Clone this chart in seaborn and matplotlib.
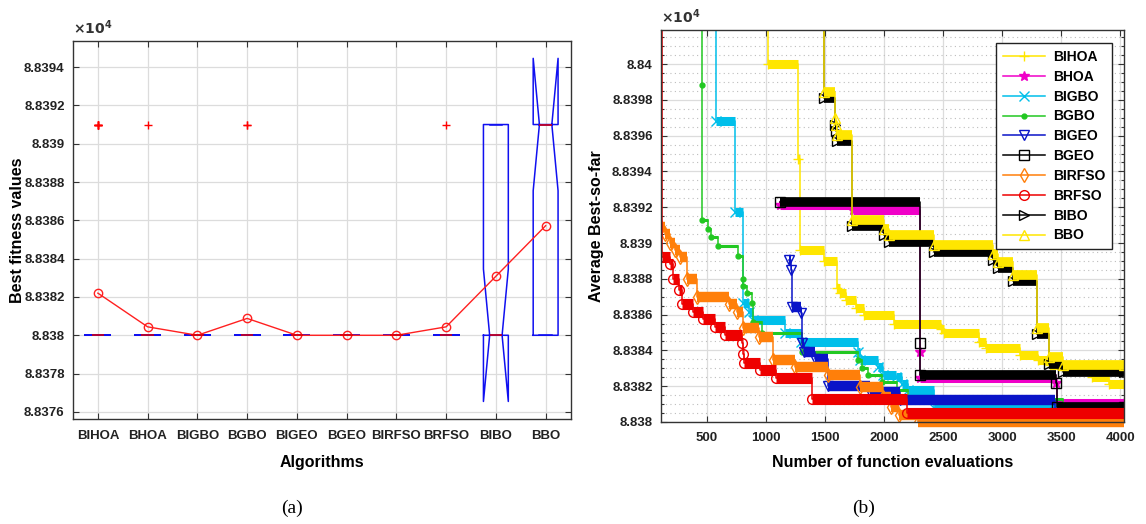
import numpy as np
import pandas as pd
import matplotlib
matplotlib.use("Agg")
import matplotlib.pyplot as plt
from matplotlib.ticker import MultipleLocator, FixedLocator
import seaborn as sns

# ---------------- panel (a) data ----------------
algorithms = ["BIHOA", "BHOA", "BIGBO", "BGBO", "BIGEO", "BGEO", "BIRFSO", "BRFSO", "BIBO", "BBO"]
best_value = 88380.0
worse_value = 88391.0
runs_at_best = [20, 24, 25, 23, 25, 25, 25, 24, 18, 12]
runs_at_worse = [5, 1, 0, 2, 0, 0, 0, 1, 7, 13]

# ---------------- panel (b) data (step curves, value from x onwards) ----------------
bihoa_x = [1014, 1016, 1275, 1289, 1490, 1600, 1630, 1680, 1760, 1830, 2080, 2480, 2510, 2800, 2860, 3150, 3300, 3400, 3760, 3900]
bihoa_y = [88420, 88400.0, 88394.7, 88389.6, 88389.0, 88387.47, 88387.2, 88386.82, 88386.35, 88385.98, 88385.5, 88385.2,
           88384.95, 88384.49, 88384.12, 88383.75, 88383.46, 88383.18, 88382.5, 88382.1]
bhoa_x = [1120, 1740, 2300, 2305, 3455, 3461]
bhoa_y = [88392.15, 88391.85, 88383.93, 88382.45, 88382.16, 88381.05]
bigbo_x = [578, 580, 735, 810, 860, 890, 1160, 1300, 1780, 1800, 1950, 1990, 2100, 2150, 2200, 2425]
bigbo_y = [88420, 88396.83, 88391.72, 88386.63, 88386.16, 88385.7, 88384.95, 88384.49, 88383.9, 88383.46, 88383.1,
           88382.63, 88382.53, 88382.1, 88381.79, 88380.76]
bgbo_x = [455, 457, 460, 514, 540, 596, 765, 807, 810, 838, 880, 892, 965, 1304, 1783, 1810, 1865, 1980, 2107, 2200, 3510]
bgbo_y = [88420, 88398.8, 88391.3, 88390.77, 88390.35, 88389.83, 88389.3, 88388.0, 88387.6, 88387.19, 88386.63, 88385.6,
          88384.95, 88383.93, 88383.46, 88383.0, 88382.6, 88382.25, 88381.8, 88381.3, 88380.5]
bigeo_x = [1195, 1215, 1225, 1300, 1305, 1320, 1416, 1530, 1880, 2135, 3447]
bigeo_y = [88389.05, 88388.5, 88386.45, 88386.07, 88384.43, 88383.93, 88383.5, 88382.0, 88381.7, 88381.23, 88380.5]
bgeo_x = [1120, 2300, 2305, 3455, 3461]
bgeo_y = [88392.31, 88384.4, 88382.63, 88382.16, 88380.86]
birfso_x = [113, 150, 190, 230, 270, 330, 420, 690, 760, 810, 940, 1060, 1250, 1530, 1800, 1990, 2060, 2130, 2290]
birfso_y = [88390.9, 88390.5, 88390.0, 88389.6, 88389.2, 88388.0, 88387.0, 88386.6, 88386.16, 88385.24, 88384.77,
            88383.46, 88383.05, 88382.6, 88381.97, 88381.4, 88380.85, 88380.4, 88380.0]
brfso_x = [113, 118, 190, 215, 265, 290, 380, 465, 570, 655, 795, 805, 815, 950, 1090, 1390, 2190]
brfso_y = [88420, 88389.2, 88388.8, 88388.0, 88387.4, 88386.6, 88386.16, 88385.74, 88385.33, 88384.86, 88384.4,
           88383.8, 88383.3, 88382.9, 88382.44, 88381.27, 88380.5]
bibo_x = [1493, 1495, 1585, 1595, 1605, 1727, 2000, 2040, 2420, 2920, 2960, 3090, 3292, 3396, 3510]
bibo_y = [88420, 88398.1, 88396.6, 88396.25, 88395.7, 88390.95, 88390.45, 88390.05, 88389.5, 88389.05, 88388.6,
          88387.85, 88384.9, 88383.25, 88382.8]
bbo_x = [1493, 1495, 1585, 1595, 1605, 1727, 2000, 2040, 2420, 2920, 2960, 3090, 3292, 3396, 3510]
bbo_y = [88420, 88398.45, 88396.97, 88396.6, 88396.03, 88391.3, 88390.8, 88390.45, 88389.89, 88389.4, 88388.96,
         88388.21, 88385.24, 88383.65, 88383.18]
evals_end = 4030

series_names = ["BIHOA", "BHOA", "BIGBO", "BGBO", "BIGEO", "BGEO", "BIRFSO", "BRFSO", "BIBO", "BBO"]
series_x = [bihoa_x, bhoa_x, bigbo_x, bgbo_x, bigeo_x, bgeo_x, birfso_x, brfso_x, bibo_x, bbo_x]
series_y = [bihoa_y, bhoa_y, bigbo_y, bgbo_y, bigeo_y, bgeo_y, birfso_y, brfso_y, bibo_y, bbo_y]

# ---------------- styles ----------------
series_colors = ["#FFE600", "#F000C8", "#00BFEA", "#22C822", "#0A14C8", "#000000", "#FF7F0A", "#EE0000", "#000000", "#FFE600"]
series_markers = ["+", "*", "x", ".", "v", "s", "d", "o", ">", "^"]
band_widths = [6.5, 6.5, 6.5, 2.2, 7.5, 7, 7.5, 8, 7, 7]

plt.rcParams["font.family"] = ["Liberation Sans", "DejaVu Sans"]
plt.rcParams["font.weight"] = "bold"
plt.rcParams["axes.labelweight"] = "bold"
plt.rcParams["axes.edgecolor"] = "#333333"
plt.rcParams["axes.linewidth"] = 1.0

fig = plt.figure(figsize=(11.46, 5.24), dpi=100)
fig.patch.set_facecolor("white")

# ======================= panel (a) =======================
ax1 = fig.add_axes([73 / 1146, 1 - 419 / 524, 497.5 / 1146, 378 / 524])
fit_rows = []
for name, nb, nw in zip(algorithms, runs_at_best, runs_at_worse):
    fit_rows += [(name, best_value)] * nb + [(name, worse_value)] * nw
df_fit = pd.DataFrame(fit_rows, columns=["Algorithm", "Fitness"])

sns.boxplot(data=df_fit, x="Algorithm", y="Fitness", order=algorithms, notch=True, fill=False,
            color="#1010F0", width=0.5, linewidth=1.1,
            medianprops=dict(color="#E00000", linewidth=1.1),
            whiskerprops=dict(linestyle="--", color="#1010F0"),
            capprops=dict(color="#1010F0"),
            flierprops=dict(marker="+", markeredgecolor="red", markersize=5.5, markeredgewidth=1.0),
            ax=ax1)
sns.pointplot(data=df_fit, x="Algorithm", y="Fitness", order=algorithms, estimator="mean", errorbar=None,
              color="#FF2020", markers="o", markersize=6, markerfacecolor="none", markeredgewidth=1.0,
              linewidth=1.0, ax=ax1)

ax1.set_xlim(-0.5, 9.5)
ax1.set_ylim(88375.63, 88395.36)
yt1 = np.arange(88376, 88395, 2)
ax1.yaxis.set_major_locator(FixedLocator(yt1))
ax1.set_yticklabels([f"{v / 1e4:.4f}".rstrip("0").rstrip(".") for v in yt1])
ax1.set_xticks(range(len(algorithms)))
ax1.set_xticklabels(algorithms)
ax1.grid(True, color="#DCDCDC", linewidth=0.9)
ax1.set_axisbelow(True)
ax1.tick_params(direction="in", top=True, right=True, length=4, width=0.8, labelsize=9.5, colors="#333333",
                labelcolor="#222222")
ax1.tick_params(axis="x", pad=8)
ax1.tick_params(axis="y", pad=6)
ax1.set_xlabel("Algorithms", fontsize=11.5, labelpad=9)
ax1.set_ylabel("Best fitness values", fontsize=11.5, labelpad=-1)
ax1.text(0.0, 1.01, r"$\times10^{4}$", transform=ax1.transAxes, fontsize=10, ha="left", va="bottom", color="#333333")

# ======================= panel (b) =======================
ax2 = fig.add_axes([661 / 1146, 1 - 422 / 524, 463 / 1146, 392 / 524])
y_lo, y_hi = 88380.0, 88401.9
for name, xs, ys, col, mk, bw in zip(series_names, series_x, series_y, series_colors, series_markers, band_widths):
    xx = list(xs) + [evals_end]
    yy = list(ys) + [ys[-1]]
    # thick bands formed by dense markers on each plateau
    seg_rows = []
    for i in range(len(xx) - 1):
        if ys[i] <= y_hi:
            seg_rows.append((i, xx[i], yy[i]))
            seg_rows.append((i, xx[i + 1], yy[i]))
    seg = pd.DataFrame(seg_rows, columns=["seg", "x", "y"])
    sns.lineplot(data=seg, x="x", y="y", units="seg", estimator=None, sort=False, color=col,
                 linewidth=bw, solid_capstyle="butt", clip_on=False, legend=False, ax=ax2)
    sns.lineplot(x=xx, y=yy, estimator=None, sort=False, drawstyle="steps-post", color=col, linewidth=1.1,
                 marker=mk, markersize=7, markerfacecolor=("none" if mk not in ("*", ".") else col),
                 markeredgecolor=col, markeredgewidth=1.0, label=name, ax=ax2)

ax2.set_xlim(113, evals_end)
ax2.set_ylim(y_lo, y_hi)
ax2.set_xticks(np.arange(500, 4001, 500))
yt2 = np.arange(88380, 88401, 2)
ax2.yaxis.set_major_locator(FixedLocator(yt2))
ax2.set_yticklabels([f"{v / 1e4:.4f}".rstrip("0").rstrip(".") for v in yt2])
ax2.yaxis.set_minor_locator(MultipleLocator(0.5))
ax2.grid(True, which="major", color="#DCDCDC", linewidth=0.9)
ax2.grid(True, which="minor", axis="y", color="#BDBDBD", linewidth=0.8, linestyle=(0, (1, 3)))
ax2.set_axisbelow(True)
ax2.tick_params(which="both", direction="in", top=True, right=True, width=0.8, colors="#333333",
                labelcolor="#222222")
ax2.tick_params(which="major", length=4, labelsize=9.5)
ax2.tick_params(axis="x", which="major", pad=7)
ax2.tick_params(axis="y", which="major", pad=6)
ax2.tick_params(which="minor", length=2)
ax2.set_xlabel("Number of function evaluations", fontsize=11.5, labelpad=8)
ax2.set_ylabel("Average Best-so-far", fontsize=11.5, labelpad=6)
ax2.text(0.0, 1.01, r"$\times10^{4}$", transform=ax2.transAxes, fontsize=10, ha="left", va="bottom", color="#333333")

leg = ax2.legend(loc="upper right", bbox_to_anchor=(0.975, 0.967), borderaxespad=0.0, fontsize=10, frameon=True,
                 fancybox=False, edgecolor="#222222", framealpha=1.0, handlelength=3.0, labelspacing=0.42,
                 borderpad=0.5, handletextpad=0.6)
leg.get_frame().set_linewidth(1.0)
for t in leg.get_texts():
    t.set_fontweight("bold")

fig.text(292 / 1146, 1 - 508 / 524, "(a)", fontsize=14, ha="center", va="center", family="Liberation Serif",
         weight="normal")
fig.text(864 / 1146, 1 - 508 / 524, "(b)", fontsize=14, ha="center", va="center", family="Liberation Serif",
         weight="normal")

fig.savefig("out.png", dpi=100, facecolor="white")
